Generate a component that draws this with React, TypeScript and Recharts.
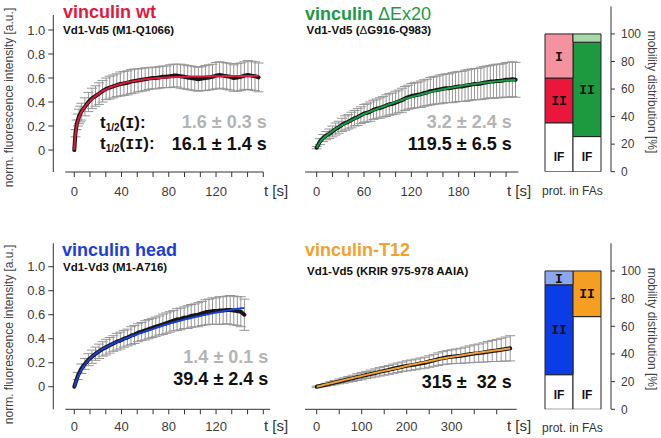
import {
  ComposedChart,
  Line,
  XAxis,
  YAxis,
  ErrorBar,
  ReferenceLine,
  BarChart,
  Bar,
  Cell,
  LabelList,
} from "recharts";

const SANS = '"Liberation Sans", Arial, Helvetica, sans-serif';
const MONO = '"Liberation Mono", "Courier New", monospace';
const AXIS = "#333";
const TICK_TEXT = "#3c3c3c";

// ---- vinculin wt (Vd1-Vd5, M1-Q1066) ----
const wtTime = [0, 1, 2, 3, 4, 5, 6, 9, 12, 15, 18, 21, 24, 27, 30, 33, 36, 39, 42, 45, 48, 51, 54, 57, 60, 63, 66, 69, 72, 75, 78, 81, 84, 87, 90, 93, 96, 99, 102, 105, 108, 111, 114, 117, 120, 123, 126, 129, 132, 135, 138, 141, 144, 147, 150, 153, 156];
const wtMean = [0, 0.14, 0.21, 0.25, 0.28, 0.3, 0.32, 0.36, 0.4, 0.43, 0.45, 0.47, 0.49, 0.51, 0.52, 0.53, 0.54, 0.55, 0.555, 0.56, 0.57, 0.575, 0.58, 0.585, 0.59, 0.595, 0.6, 0.6, 0.605, 0.61, 0.61, 0.615, 0.62, 0.62, 0.615, 0.61, 0.605, 0.6, 0.595, 0.59, 0.595, 0.6, 0.605, 0.61, 0.62, 0.625, 0.62, 0.615, 0.61, 0.6, 0.605, 0.61, 0.62, 0.625, 0.62, 0.615, 0.605];
const wtSd = [0, 0.03, 0.04, 0.05, 0.06, 0.065, 0.07, 0.075, 0.08, 0.085, 0.085, 0.09, 0.09, 0.09, 0.095, 0.095, 0.095, 0.1, 0.1, 0.1, 0.1, 0.1, 0.095, 0.095, 0.095, 0.09, 0.09, 0.09, 0.09, 0.09, 0.09, 0.095, 0.095, 0.095, 0.1, 0.1, 0.1, 0.1, 0.1, 0.1, 0.1, 0.105, 0.105, 0.105, 0.11, 0.11, 0.11, 0.11, 0.11, 0.11, 0.115, 0.115, 0.115, 0.12, 0.12, 0.12, 0.12];
const wtFit = [0, 0.13, 0.2, 0.24, 0.27, 0.295, 0.315, 0.36, 0.395, 0.425, 0.45, 0.47, 0.49, 0.505, 0.52, 0.53, 0.54, 0.55, 0.557, 0.564, 0.57, 0.575, 0.58, 0.585, 0.589, 0.592, 0.595, 0.598, 0.6, 0.602, 0.604, 0.606, 0.607, 0.608, 0.609, 0.61, 0.611, 0.612, 0.612, 0.613, 0.613, 0.614, 0.614, 0.615, 0.615, 0.615, 0.616, 0.616, 0.616, 0.616, 0.617, 0.617, 0.617, 0.617, 0.617, 0.618, 0.618];

// ---- vinculin dEx20 (Vd1-Vd5, dG916-Q983) ----
const exTime = [0, 4, 8, 12, 16, 20, 24, 28, 32, 36, 40, 44, 48, 52, 56, 60, 64, 68, 72, 76, 80, 84, 88, 92, 96, 100, 104, 108, 112, 116, 120, 124, 128, 132, 136, 140, 144, 148, 152, 156, 160, 164, 168, 172, 176, 180, 184, 188, 192, 196, 200, 204, 208, 212, 216, 220, 224, 228, 232, 236, 240, 244, 248, 252];
const exMean = [0.02, 0.07, 0.1, 0.12, 0.135, 0.155, 0.175, 0.19, 0.21, 0.225, 0.235, 0.25, 0.265, 0.275, 0.29, 0.305, 0.31, 0.32, 0.335, 0.345, 0.35, 0.36, 0.37, 0.38, 0.385, 0.395, 0.405, 0.415, 0.43, 0.44, 0.45, 0.455, 0.46, 0.465, 0.475, 0.48, 0.49, 0.495, 0.5, 0.505, 0.51, 0.515, 0.515, 0.52, 0.525, 0.53, 0.53, 0.535, 0.54, 0.545, 0.55, 0.55, 0.555, 0.56, 0.565, 0.57, 0.57, 0.575, 0.575, 0.58, 0.585, 0.585, 0.59, 0.585];
const exSd = [0.01, 0.025, 0.03, 0.035, 0.04, 0.045, 0.05, 0.05, 0.055, 0.06, 0.06, 0.065, 0.065, 0.07, 0.07, 0.075, 0.075, 0.08, 0.08, 0.08, 0.085, 0.085, 0.09, 0.09, 0.09, 0.095, 0.095, 0.1, 0.1, 0.1, 0.105, 0.105, 0.105, 0.11, 0.11, 0.11, 0.115, 0.115, 0.115, 0.12, 0.12, 0.12, 0.12, 0.125, 0.125, 0.125, 0.125, 0.13, 0.13, 0.13, 0.13, 0.13, 0.135, 0.135, 0.135, 0.135, 0.14, 0.14, 0.14, 0.14, 0.145, 0.145, 0.145, 0.145];
const exFit = [0.02, 0.065, 0.095, 0.118, 0.138, 0.158, 0.176, 0.192, 0.207, 0.221, 0.235, 0.248, 0.262, 0.275, 0.288, 0.3, 0.311, 0.321, 0.331, 0.341, 0.351, 0.361, 0.371, 0.381, 0.39, 0.399, 0.408, 0.417, 0.426, 0.434, 0.442, 0.449, 0.456, 0.463, 0.47, 0.477, 0.483, 0.489, 0.495, 0.501, 0.506, 0.511, 0.516, 0.521, 0.526, 0.531, 0.535, 0.539, 0.543, 0.547, 0.551, 0.554, 0.557, 0.56, 0.563, 0.566, 0.569, 0.572, 0.574, 0.577, 0.579, 0.581, 0.583, 0.585];

// ---- vinculin head (Vd1-Vd3, M1-A716) ----
const hdTime = [0, 3, 6, 9, 12, 15, 18, 21, 24, 27, 30, 33, 36, 39, 42, 45, 48, 51, 54, 57, 60, 63, 66, 69, 72, 75, 78, 81, 84, 87, 90, 93, 96, 99, 102, 105, 108, 111, 114, 117, 120, 123, 126, 129, 132, 135, 138, 141, 144];
const hdMean = [0, 0.09, 0.15, 0.19, 0.225, 0.25, 0.275, 0.295, 0.315, 0.33, 0.345, 0.36, 0.375, 0.385, 0.4, 0.41, 0.425, 0.435, 0.45, 0.46, 0.47, 0.48, 0.49, 0.5, 0.51, 0.52, 0.53, 0.54, 0.55, 0.56, 0.565, 0.575, 0.58, 0.59, 0.595, 0.6, 0.61, 0.62, 0.625, 0.63, 0.63, 0.635, 0.635, 0.64, 0.64, 0.635, 0.63, 0.625, 0.6];
const hdSd = [0, 0.03, 0.04, 0.045, 0.05, 0.055, 0.055, 0.06, 0.06, 0.065, 0.065, 0.065, 0.07, 0.07, 0.07, 0.07, 0.075, 0.075, 0.075, 0.075, 0.08, 0.08, 0.08, 0.08, 0.08, 0.085, 0.085, 0.085, 0.085, 0.09, 0.09, 0.09, 0.095, 0.095, 0.095, 0.1, 0.1, 0.105, 0.105, 0.11, 0.11, 0.115, 0.115, 0.115, 0.12, 0.12, 0.12, 0.125, 0.13];
const hdFit = [0, 0.08, 0.14, 0.185, 0.22, 0.25, 0.275, 0.295, 0.315, 0.33, 0.345, 0.36, 0.372, 0.385, 0.397, 0.408, 0.42, 0.43, 0.44, 0.45, 0.46, 0.47, 0.48, 0.49, 0.5, 0.51, 0.518, 0.527, 0.535, 0.543, 0.551, 0.559, 0.566, 0.573, 0.58, 0.587, 0.593, 0.6, 0.606, 0.612, 0.618, 0.623, 0.629, 0.634, 0.639, 0.644, 0.649, 0.653, 0.657];

// ---- vinculin-T12 (Vd1-Vd5, KRIR 975-978 AAIA) ----
const t12Time = [0, 10, 20, 30, 40, 50, 60, 70, 80, 90, 100, 110, 120, 130, 140, 150, 160, 170, 180, 190, 200, 210, 220, 230, 240, 250, 260, 270, 280, 290, 300, 310, 320, 330, 340, 350, 360, 370, 380, 390, 400, 410, 420, 430];
const t12Mean = [0, 0.008, 0.016, 0.026, 0.034, 0.044, 0.052, 0.062, 0.07, 0.08, 0.088, 0.098, 0.106, 0.115, 0.124, 0.132, 0.14, 0.15, 0.158, 0.166, 0.174, 0.18, 0.186, 0.194, 0.2, 0.21, 0.22, 0.23, 0.238, 0.245, 0.25, 0.254, 0.258, 0.264, 0.27, 0.276, 0.28, 0.285, 0.292, 0.298, 0.302, 0.308, 0.314, 0.32];
const t12Sd = [0.004, 0.008, 0.012, 0.015, 0.018, 0.02, 0.022, 0.024, 0.026, 0.028, 0.03, 0.03, 0.032, 0.034, 0.035, 0.036, 0.037, 0.038, 0.04, 0.04, 0.042, 0.043, 0.044, 0.045, 0.046, 0.048, 0.05, 0.052, 0.054, 0.056, 0.058, 0.06, 0.063, 0.066, 0.07, 0.073, 0.076, 0.08, 0.084, 0.088, 0.092, 0.096, 0.1, 0.105];
const t12Fit = [0, 0.009, 0.018, 0.028, 0.037, 0.046, 0.055, 0.064, 0.073, 0.082, 0.09, 0.099, 0.107, 0.116, 0.124, 0.132, 0.14, 0.148, 0.156, 0.164, 0.175, 0.183, 0.19, 0.198, 0.205, 0.213, 0.22, 0.228, 0.235, 0.242, 0.248, 0.255, 0.261, 0.267, 0.273, 0.279, 0.284, 0.289, 0.294, 0.299, 0.304, 0.309, 0.314, 0.319];

// x-axis ticks and the subset that carries a number
const ticks160 = [0, 13.3, 26.7, 40, 53.3, 66.7, 80, 93.3, 106.7, 120, 133.3, 146.7, 160];
const labels160 = [0, 40, 80, 120];
const ticks240 = [0, 20, 40, 60, 80, 100, 120, 140, 160, 180, 200, 220, 240];
const labels240 = [0, 60, 120, 180];
const ticks400 = [0, 50, 100, 150, 200, 250, 300, 350, 400];
const labels400 = [0, 100, 200, 300];
const yTicks = [0, 0.2, 0.4, 0.6, 0.8, 1.0];

// mobility distribution [%]: immobile fraction (IF), phase II, phase I
const barsTopNames = ["wt", "ΔEx20"];
const barsTopIF = [35.5, 25.5];
const barsTopII = [32.5, 68.5];
const barsTopI = [32, 6];
const barsBottomNames = ["head", "T12"];
const barsBottomIF = [25, 67];
const barsBottomII = [65, 33];
const barsBottomI = [10, 0];
const mobilityTicks = [0, 20, 40, 60, 80, 100];

type Box = { left: number; top: number; width: number; height: number };
type Margin = { top: number; right: number; bottom: number; left: number };

function RecoveryPanel(props: {
  time: number[];
  mean: number[];
  sd: number[];
  fit: number[];
  color: string;
  box: Box;
  margin: Margin;
  xDomain: [number, number];
  xTicks: number[];
  xLabels: number[];
  yDomain: [number, number];
  withYAxis: boolean;
  axisStart?: number;
  axisEnd?: number;
  labelGap: number;
}) {
  const { time, mean, sd, fit, color, box, margin, xDomain, xTicks, xLabels, yDomain, withYAxis, labelGap } = props;
  const data = time.map((t, i) => ({ t, mean: mean[i], sd: sd[i], fit: fit[i] }));

  return (
    <div style={{ position: "absolute", left: box.left, top: box.top }}>
      <ComposedChart width={box.width} height={box.height} data={data} margin={margin}>
        <XAxis
          type="number"
          dataKey="t"
          domain={xDomain}
          allowDataOverflow
          ticks={xTicks}
          interval={0}
          tickFormatter={(v: number) => (xLabels.includes(v) ? String(v) : "")}
          axisLine={withYAxis ? false : { stroke: AXIS }}
          tickLine={{ stroke: AXIS }}
          tickSize={5}
          tickMargin={labelGap}
          tick={{ fill: TICK_TEXT, fontSize: 13, fontFamily: SANS }}
          height={28}
        />
        {withYAxis ? (
          <YAxis
            type="number"
            domain={yDomain}
            allowDataOverflow
            ticks={yTicks}
            interval={0}
            tickFormatter={(v: number) => (v === 0 ? "0" : v.toFixed(1))}
            width={45}
            tickSize={5}
            tickMargin={3}
            axisLine={{ stroke: AXIS }}
            tickLine={{ stroke: AXIS }}
            tick={{ fill: TICK_TEXT, fontSize: 13, fontFamily: SANS }}
          />
        ) : (
          <YAxis type="number" domain={yDomain} allowDataOverflow hide />
        )}
        {withYAxis && (
          // the time axis starts a little to the right of the intensity axis
          <ReferenceLine
            segment={[
              { x: props.axisStart, y: yDomain[0] },
              { x: props.axisEnd, y: yDomain[0] },
            ]}
            stroke={AXIS}
            ifOverflow="visible"
          />
        )}
        <Line dataKey="mean" stroke="none" dot={false} isAnimationActive={false}>
          <ErrorBar dataKey="sd" width={5} stroke="#969696" strokeWidth={1} direction="y" />
        </Line>
        {/* measured points, so dense that they merge into a thick dark trace */}
        <Line
          dataKey="mean"
          stroke="#161616"
          strokeWidth={4}
          strokeLinecap="round"
          strokeLinejoin="round"
          dot={false}
          isAnimationActive={false}
        />
        <Line dataKey="fit" type="monotone" stroke={color} strokeWidth={2} dot={false} isAnimationActive={false} />
      </ComposedChart>
    </div>
  );
}

const segmentLabel = (text: string, mono: boolean, atBottom = false) => (p: any) => {
  const { x, y, width, height, value } = p;
  if (!value || value < 8) return null;
  const cy = atBottom ? Number(y) + Number(height) - 15 : Number(y) + Number(height) / 2;
  return (
    <text
      x={Number(x) + Number(width) / 2}
      y={cy}
      dy="0.36em"
      textAnchor="middle"
      fontFamily={mono ? MONO : SANS}
      fontWeight="bold"
      fontSize={mono ? 13 : 12}
      fill="#111"
    >
      {text}
    </text>
  );
};

function MobilityPanel(props: {
  names: string[];
  immobile: number[];
  slow: number[];
  fast: number[];
  slowColors: string[];
  fastColors: string[];
  box: Box;
  margin: Margin;
}) {
  const { names, immobile, slow, fast, slowColors, fastColors, box, margin } = props;
  const data = names.map((name, i) => ({ name, IF: immobile[i], II: slow[i], I: fast[i] }));

  return (
    <div style={{ position: "absolute", left: box.left, top: box.top }}>
      <BarChart width={box.width} height={box.height} data={data} margin={margin} barCategoryGap={0} barGap={0}>
        <XAxis dataKey="name" hide padding={{ left: 0, right: 10 }} />
        <YAxis
          orientation="right"
          type="number"
          domain={[0, 120]}
          allowDataOverflow
          ticks={mobilityTicks}
          interval={0}
          width={50}
          tickSize={4}
          tickMargin={6}
          axisLine={{ stroke: AXIS }}
          tickLine={{ stroke: AXIS }}
          tick={{ fill: TICK_TEXT, fontSize: 12, fontFamily: SANS }}
        />
        <Bar dataKey="IF" stackId="m" fill="#ffffff" stroke="#222" strokeWidth={1} isAnimationActive={false}>
          <LabelList dataKey="IF" content={segmentLabel("IF", false, true)} />
        </Bar>
        <Bar dataKey="II" stackId="m" stroke="#222" strokeWidth={1} isAnimationActive={false}>
          {slowColors.map((c, i) => (
            <Cell key={i} fill={c} />
          ))}
          <LabelList dataKey="II" content={segmentLabel("II", true)} />
        </Bar>
        <Bar dataKey="I" stackId="m" stroke="#222" strokeWidth={1} isAnimationActive={false}>
          {fastColors.map((c, i) => (
            <Cell key={i} fill={c} />
          ))}
          <LabelList dataKey="I" content={segmentLabel("I", true)} />
        </Bar>
      </BarChart>
    </div>
  );
}

export default function App() {
  const topY: [number, number] = [-0.183, 1.125];
  const bottomY: [number, number] = [-0.188, 1.195];

  return (
    <div style={{ position: "absolute", left: 0, top: 0, width: 661, height: 438, background: "#fff", fontFamily: SANS }}>
      <RecoveryPanel
        time={wtTime} mean={wtMean} sd={wtSd} fit={wtFit} color="#e2183d"
        box={{ left: 0, top: 0, width: 270, height: 200 }}
        margin={{ top: 15, right: 6.7, bottom: 0, left: 8.3 }}
        xDomain={[-17.75, 160]} xTicks={ticks160} xLabels={labels160}
        yDomain={topY} withYAxis axisStart={-7.6} axisEnd={160} labelGap={10}
      />
      <RecoveryPanel
        time={exTime} mean={exMean} sd={exSd} fit={exFit} color="#1d9a44"
        box={{ left: 270, top: 0, width: 270, height: 200 }}
        margin={{ top: 15, right: 21.7, bottom: 0, left: 35 }}
        xDomain={[-14.8, 255.5]} xTicks={ticks240} xLabels={labels240}
        yDomain={topY} withYAxis={false} labelGap={10}
      />
      <RecoveryPanel
        time={hdTime} mean={hdMean} sd={hdSd} fit={hdFit} color="#1b3fd8"
        box={{ left: 0, top: 228, width: 270, height: 210 }}
        margin={{ top: 15.3, right: 6.7, bottom: 0.7, left: 8.3 }}
        xDomain={[-17.75, 160]} xTicks={ticks160} xLabels={labels160}
        yDomain={bottomY} withYAxis axisStart={-7.6} axisEnd={166} labelGap={7}
      />
      <RecoveryPanel
        time={t12Time} mean={t12Mean} sd={t12Sd} fit={t12Fit} color="#f2a12e"
        box={{ left: 270, top: 228, width: 270, height: 210 }}
        margin={{ top: 15.3, right: 23.3, bottom: 0.7, left: 35 }}
        xDomain={[-26, 444.4]} xTicks={ticks400} xLabels={labels400}
        yDomain={bottomY} withYAxis={false} labelGap={7}
      />
      <MobilityPanel
        names={barsTopNames} immobile={barsTopIF} slow={barsTopII} fast={barsTopI}
        slowColors={["#ea163b", "#1d9940"]} fastColors={["#f4929f", "#a6d8aa"]}
        box={{ left: 540, top: 0, width: 121, height: 200 }}
        margin={{ top: 6.4, right: 0, bottom: 28.3, left: 5 }}
      />
      <MobilityPanel
        names={barsBottomNames} immobile={barsBottomIF} slow={barsBottomII} fast={barsBottomI}
        slowColors={["#0b3de6", "#f59f22"]} fastColors={["#8da6f2", "#f59f22"]}
        box={{ left: 540, top: 228, width: 121, height: 210 }}
        margin={{ top: 15.3, right: 0, bottom: 28.7, left: 5 }}
      />

      {/* titles, rate constants and axis captions */}
      <svg width={661} height={438} style={{ position: "absolute", left: 0, top: 0, pointerEvents: "none" }} fontFamily={SANS}>
        <text x={63} y={18} fontSize={18} fontWeight="bold" fill="#e2183d">vinculin wt</text>
        <text x={63} y={33.5} fontSize={11.5} fontWeight="bold" fill="#111">Vd1-Vd5 (M1-Q1066)</text>
        <text x={305} y={19.5} fontSize={18} fontWeight="bold" fill="#1d9a44">
          vinculin <tspan fontWeight="normal">ΔEx20</tspan>
        </text>
        <text x={306.5} y={34} fontSize={11.5} fontWeight="bold" fill="#111">
          Vd1-Vd5 (<tspan fontWeight="normal">Δ</tspan>G916-Q983)
        </text>
        <text x={62} y={256} fontSize={18} fontWeight="bold" fill="#1b3fd8">vinculin head</text>
        <text x={63} y={270.5} fontSize={11.5} fontWeight="bold" fill="#111">Vd1-Vd3 (M1-A716)</text>
        <text x={305} y={255.5} fontSize={18} fontWeight="bold" fill="#f2a12e">vinculin-T12</text>
        <text x={307} y={275} fontSize={11.5} fontWeight="bold" fill="#111">Vd1-Vd5 (KRIR 975-978 AAIA)</text>

        <text x={100} y={128} fontSize={17} fontWeight="bold" fill="#111">
          t<tspan fontSize={10} dy={3}>1/2</tspan>
          <tspan dy={-3}>(</tspan>
          <tspan fontFamily={MONO} fontSize={15}>I</tspan>):
        </text>
        <text x={100} y={149} fontSize={17} fontWeight="bold" fill="#111">
          t<tspan fontSize={10} dy={3}>1/2</tspan>
          <tspan dy={-3}>(</tspan>
          <tspan fontFamily={MONO} fontSize={15}>II</tspan>):
        </text>

        <text x={266.7} y={128.3} textAnchor="end" fontSize={18} fontWeight="bold" fill="#b4b4b4">1.6 ± 0.3 s</text>
        <text x={266.7} y={150} textAnchor="end" fontSize={18} fontWeight="bold" fill="#111">16.1 ± 1.4 s</text>
        <text x={511.7} y={128} textAnchor="end" fontSize={18} fontWeight="bold" fill="#b4b4b4">3.2 ± 2.4 s</text>
        <text x={511.7} y={150} textAnchor="end" fontSize={18} fontWeight="bold" fill="#111">119.5 ± 6.5 s</text>
        <text x={268.3} y={363} textAnchor="end" fontSize={18} fontWeight="bold" fill="#b4b4b4">1.4 ± 0.1 s</text>
        <text x={268.3} y={385} textAnchor="end" fontSize={18} fontWeight="bold" fill="#111">39.4 ± 2.4 s</text>
        <text x={511.7} y={388} textAnchor="end" fontSize={18} fontWeight="bold" fill="#111" style={{ whiteSpace: "pre" }}>315 ±  32 s</text>

        <text x={264} y={196} fontSize={15} fill="#333">t [s]</text>
        <text x={507} y={196} fontSize={15} fill="#333">t [s]</text>
        <text x={264} y={431} fontSize={15} fill="#333">t [s]</text>
        <text x={507} y={431} fontSize={15} fill="#333">t [s]</text>

        <text transform="translate(8.5,97.5) rotate(-90)" textAnchor="middle" dominantBaseline="central" fontSize={12} fill="#444">
          norm. fluorescence intensity [a.u.]
        </text>
        <text transform="translate(8.5,334.5) rotate(-90)" textAnchor="middle" dominantBaseline="central" fontSize={12} fill="#444">
          norm. fluorescence intensity [a.u.]
        </text>
        <text transform="translate(651.5,92) rotate(90)" textAnchor="middle" dominantBaseline="central" fontSize={12} fill="#444">
          mobility distribution [%]
        </text>
        <text transform="translate(651.5,329) rotate(90)" textAnchor="middle" dominantBaseline="central" fontSize={12} fill="#444">
          mobility distribution [%]
        </text>
        <text x={542} y={195} fontSize={12} fill="#333">prot. in FAs</text>
        <text x={542} y={431.5} fontSize={12} fill="#333">prot. in FAs</text>
      </svg>
    </div>
  );
}
